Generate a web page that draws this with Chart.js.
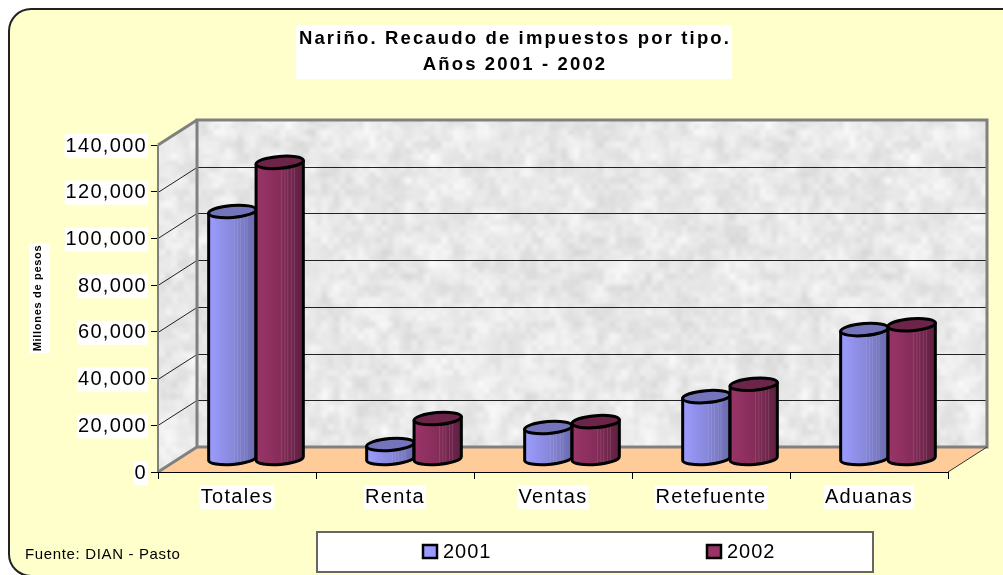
<!DOCTYPE html>
<html>
<head>
<meta charset="utf-8">
<title>Nariño. Recaudo de impuestos por tipo</title>
<script src="https://cdn.jsdelivr.net/npm/chart.js@4/dist/chart.umd.min.js"></script>
<style>
  html, body { margin: 0; padding: 0; background: #fff; }
  #wrap { position: relative; width: 1003px; height: 575px; }
</style>
</head>
<body>
<div id="wrap"><canvas id="chart" width="1003" height="575"></canvas></div>
<script>
// datos
const categories = ['Totales', 'Renta', 'Ventas', 'Retefuente', 'Aduanas'];
const values2001 = [106000, 6200, 13500, 26700, 55400];
const values2002 = [127000, 17300, 16000, 32000, 57500];
const seriesNames = ['2001', '2002'];
const titleLines = ['Nariño. Recaudo de impuestos por tipo.', 'Años 2001 - 2002'];
const yAxisTitle = 'Millones de pesos';
const sourceNote = 'Fuente: DIAN - Pasto';

const FONT = '"Liberation Sans", Arial, sans-serif';
const DEPTH_X = 39, DEPTH_Y = -25;   // profundidad del "3D"
const BAR_DX = 19, BAR_DY = -13;     // plano donde estan los cilindros
const RY = 6, TILT = -4.5 * Math.PI / 180;

const barColors = {
  '2001': { stops: ['#9c9cff', '#8888dc', '#6a6aac'], top: '#7474bc' },
  '2002': { stops: ['#9a3468', '#862d5a', '#5e2040'], top: '#6c2448' }
};
const legendFill = { '2001': '#9999ff', '2002': '#993366' };

// textura gris de las paredes (ruido suave, repetible)
function lattice(x, y, n) {
  const ix = (x + n) % n, iy = (y + n) % n;
  let h = Math.imul(ix, 374761393) + Math.imul(iy, 668265263) + n;
  h = Math.imul(h ^ (h >>> 13), 1274126177);
  return ((h ^ (h >>> 16)) >>> 0) / 4294967296;
}
function smoothNoise(x, y, cell, n) {
  const fx = x / cell, fy = y / cell;
  const ix = Math.floor(fx), iy = Math.floor(fy);
  let tx = fx - ix, ty = fy - iy;
  tx = tx * tx * (3 - 2 * tx);
  ty = ty * ty * (3 - 2 * ty);
  const a = lattice(ix, iy, n), b = lattice(ix + 1, iy, n);
  const c = lattice(ix, iy + 1, n), d = lattice(ix + 1, iy + 1, n);
  return (a + (b - a) * tx) * (1 - ty) + (c + (d - c) * tx) * ty;
}
function makeTexture() {
  const size = 480;
  const c = document.createElement('canvas');
  c.width = c.height = size;
  const g = c.getContext('2d');
  const img = g.createImageData(size, size);
  for (let y = 0; y < size; y++) {
    for (let x = 0; x < size; x++) {
      const n = smoothNoise(x, y, 24, 20) * 0.25 + smoothNoise(x, y, 12, 40) * 0.4 + smoothNoise(x, y, 6, 80) * 0.35;
      const v = Math.round(232 + (n - 0.5) * 40);
      const i = (y * size + x) * 4;
      img.data[i] = img.data[i + 1] = img.data[i + 2] = v;
      img.data[i + 3] = 255;
    }
  }
  g.putImageData(img, 0, 0);
  return c;
}

function poly(ctx, pts) {
  ctx.beginPath();
  pts.forEach((p, i) => i ? ctx.lineTo(p[0], p[1]) : ctx.moveTo(p[0], p[1]));
  ctx.closePath();
}

function seg(ctx, x1, y1, x2, y2) {
  ctx.beginPath();
  ctx.moveTo(x1, y1);
  ctx.lineTo(x2, y2);
  ctx.stroke();
}

function drawText(ctx, text, x, y, font, spacing, align) {
  ctx.save();
  ctx.font = font;
  ctx.letterSpacing = spacing + 'px';
  ctx.textAlign = align || 'left';
  ctx.textBaseline = 'middle';
  ctx.fillStyle = '#000';
  ctx.fillText(text, x, y);
  ctx.restore();
}

function drawCylinder(ctx, el, name) {
  const col = barColors[name];
  const rx = el.width / 2;
  const cx = el.x + BAR_DX;
  const top = el.y + BAR_DY;
  const base = el.base + BAR_DY;
  const ox = rx * Math.cos(TILT), oy = rx * Math.sin(TILT);

  ctx.save();
  ctx.beginPath();
  ctx.moveTo(cx - ox, top - oy);
  ctx.lineTo(cx - ox, base - oy);
  ctx.ellipse(cx, base, rx, RY, TILT, Math.PI, 0, true);
  ctx.lineTo(cx + ox, top + oy);
  ctx.closePath();

  const grad = ctx.createLinearGradient(cx - rx, 0, cx + rx, 0);
  grad.addColorStop(0, col.stops[0]);
  grad.addColorStop(0.5, col.stops[1]);
  grad.addColorStop(1, col.stops[2]);
  ctx.fillStyle = grad;
  ctx.fill();

  // rayas claras del degradado original
  ctx.save();
  ctx.clip();
  ctx.fillStyle = 'rgba(255,255,255,0.12)';
  [0.53, 0.6, 0.66, 0.74, 0.8].forEach(f => {
    ctx.fillRect(cx - rx + f * 2 * rx, top - RY, 1, base - top + 2 * RY);
  });
  ctx.restore();

  ctx.lineWidth = 3;
  ctx.strokeStyle = '#000';
  ctx.lineJoin = 'round';
  ctx.stroke();

  ctx.beginPath();
  ctx.ellipse(cx, top, rx, RY, TILT, 0, 2 * Math.PI);
  ctx.fillStyle = col.top;
  ctx.fill();
  ctx.stroke();
  ctx.restore();
}

// las barras las pinta el plugin, en orden de serie
class CylinderController extends Chart.BarController {
  draw() {}
}
CylinderController.id = 'cylinder';
CylinderController.defaults = Chart.BarController.defaults;
Chart.register(CylinderController);

const scene = {
  id: 'scene',
  beforeUpdate(chart) {
    chart.ctx.letterSpacing = '1.3px';   // texto de los ejes
  },
  beforeDraw(chart) {
    const ctx = chart.ctx;
    ctx.save();
    ctx.fillStyle = '#fff';
    ctx.fillRect(0, 0, chart.width, chart.height);
    ctx.beginPath();
    ctx.roundRect(9, 9, chart.width + 40, 567, 22);
    ctx.fillStyle = '#ffffcc';
    ctx.fill();
    ctx.lineWidth = 2;
    ctx.strokeStyle = '#222';
    ctx.stroke();

    // titulo
    ctx.fillStyle = '#fff';
    ctx.fillRect(296, 25, 436, 54);
    ctx.fillRect(29, 243, 21, 110);
    ctx.restore();
    drawText(ctx, titleLines[0], 515, 39, 'bold 18.5px ' + FONT, 2.15, 'center');
    drawText(ctx, titleLines[1], 515, 65, 'bold 18.5px ' + FONT, 2.15, 'center');

    // titulo del eje y
    ctx.save();
    ctx.translate(38, 298);
    ctx.rotate(-Math.PI / 2);
    drawText(ctx, yAxisTitle, 0, 0, 'bold 11px ' + FONT, 0.7, 'center');
    ctx.restore();

    drawText(ctx, sourceNote, 25, 555, '15px ' + FONT, 0.65);

    // leyenda
    ctx.save();
    ctx.fillStyle = '#fff';
    ctx.strokeStyle = '#666';
    ctx.lineWidth = 2;
    ctx.fillRect(317, 532, 556, 40);
    ctx.strokeRect(317, 532, 556, 40);
    [423, 707].forEach((x, i) => {
      ctx.fillStyle = legendFill[seriesNames[i]];
      ctx.strokeStyle = '#000';
      ctx.lineWidth = 2.5;
      ctx.fillRect(x, 545, 14, 13);
      ctx.strokeRect(x, 545, 14, 13);
    });
    ctx.restore();
    drawText(ctx, seriesNames[0], 443, 552, '20px ' + FONT, 1);
    drawText(ctx, seriesNames[1], 727, 552, '20px ' + FONT, 1);
  },
  beforeDatasetsDraw(chart) {
    const ctx = chart.ctx;
    const { left, right, top, bottom } = chart.chartArea;
    const yScale = chart.scales.y;
    const bl = left + DEPTH_X, br = right + DEPTH_X;
    const bt = top + DEPTH_Y, bb = bottom + DEPTH_Y;

    ctx.save();
    const pat = ctx.createPattern(makeTexture(), 'repeat');
    ctx.fillStyle = pat;
    ctx.fillRect(bl, bt, br - bl, bb - bt);
    poly(ctx, [[left, top], [bl, bt], [bl, bb], [left, bottom]]);
    ctx.fill();

    ctx.fillStyle = '#ffcc99';
    poly(ctx, [[left, bottom], [right, bottom], [br, bb], [bl, bb]]);
    ctx.fill();

    // rejilla sobre las paredes
    ctx.lineWidth = 1;
    ctx.strokeStyle = '#222';
    yScale.ticks.forEach(t => {
      const y = Math.round(yScale.getPixelForValue(t.value)) + 0.5;
      if (t.value > 0 && t.value < yScale.max) {
        seg(ctx, left, y, bl, y + DEPTH_Y);
        seg(ctx, bl, y + DEPTH_Y, br, y + DEPTH_Y);
      }
    });

    // marco gris
    ctx.strokeStyle = '#808080';
    ctx.lineWidth = 3;
    ctx.lineJoin = 'miter';
    ctx.strokeRect(bl, bt, br - bl, bb - bt);
    seg(ctx, left, top, bl, bt);
    seg(ctx, left, bottom, bl, bb);
    ctx.lineWidth = 2;
    seg(ctx, left, top, left, bottom);
    ctx.lineWidth = 1;
    ctx.strokeStyle = '#333';
    seg(ctx, right, bottom, br, bb);
    ctx.restore();
  },
  afterDatasetsDraw(chart) {
    const ctx = chart.ctx;
    const { left, right, bottom } = chart.chartArea;
    categories.forEach((c, i) => {
      chart.data.datasets.forEach((ds, d) => {
        drawCylinder(ctx, chart.getDatasetMeta(d).data[i], ds.label);
      });
    });
    ctx.save();
    ctx.strokeStyle = '#000';
    ctx.lineWidth = 1;
    seg(ctx, left, bottom + 0.5, right, bottom + 0.5);
    ctx.restore();
  }
};

new Chart(document.getElementById('chart'), {
  type: 'bar',
  data: {
    labels: categories,
    datasets: [
      { type: 'cylinder', label: seriesNames[0], data: values2001, backgroundColor: '#9999ff', borderColor: '#000', categoryPercentage: 0.6, barPercentage: 1 },
      { type: 'cylinder', label: seriesNames[1], data: values2002, backgroundColor: '#993366', borderColor: '#000', categoryPercentage: 0.6, barPercentage: 1 }
    ]
  },
  options: {
    responsive: false,
    animation: false,
    events: [],
    layout: { padding: { top: 145, right: 55, left: 0, bottom: 0 } },
    plugins: {
      legend: { display: false },
      title: { display: false },
      tooltip: { enabled: false }
    },
    scales: {
      x: {
        afterFit: s => { s.height = 103; },
        grid: { drawOnChartArea: false, drawTicks: true, tickLength: 7, color: '#000' },
        border: { display: false },
        ticks: {
          color: '#000',
          font: { family: FONT, size: 20 },
          padding: 6,
          maxRotation: 0,
          showLabelBackdrop: true,
          backdropColor: '#fff',
          backdropPadding: { x: 1, y: 0 }
        }
      },
      y: {
        min: 0,
        max: 140000,
        afterFit: s => { s.width = 158; },
        grid: { drawOnChartArea: false, drawTicks: true, tickLength: 7, color: '#000' },
        border: { display: false },
        ticks: {
          stepSize: 20000,
          color: '#000',
          font: { family: FONT, size: 20 },
          padding: 4,
          labelOffset: 1,
          callback: v => v.toLocaleString('en-US'),
          showLabelBackdrop: true,
          backdropColor: '#fff',
          backdropPadding: { x: 1, y: 0 }
        }
      }
    }
  },
  plugins: [scene]
});
</script>
</body>
</html>
